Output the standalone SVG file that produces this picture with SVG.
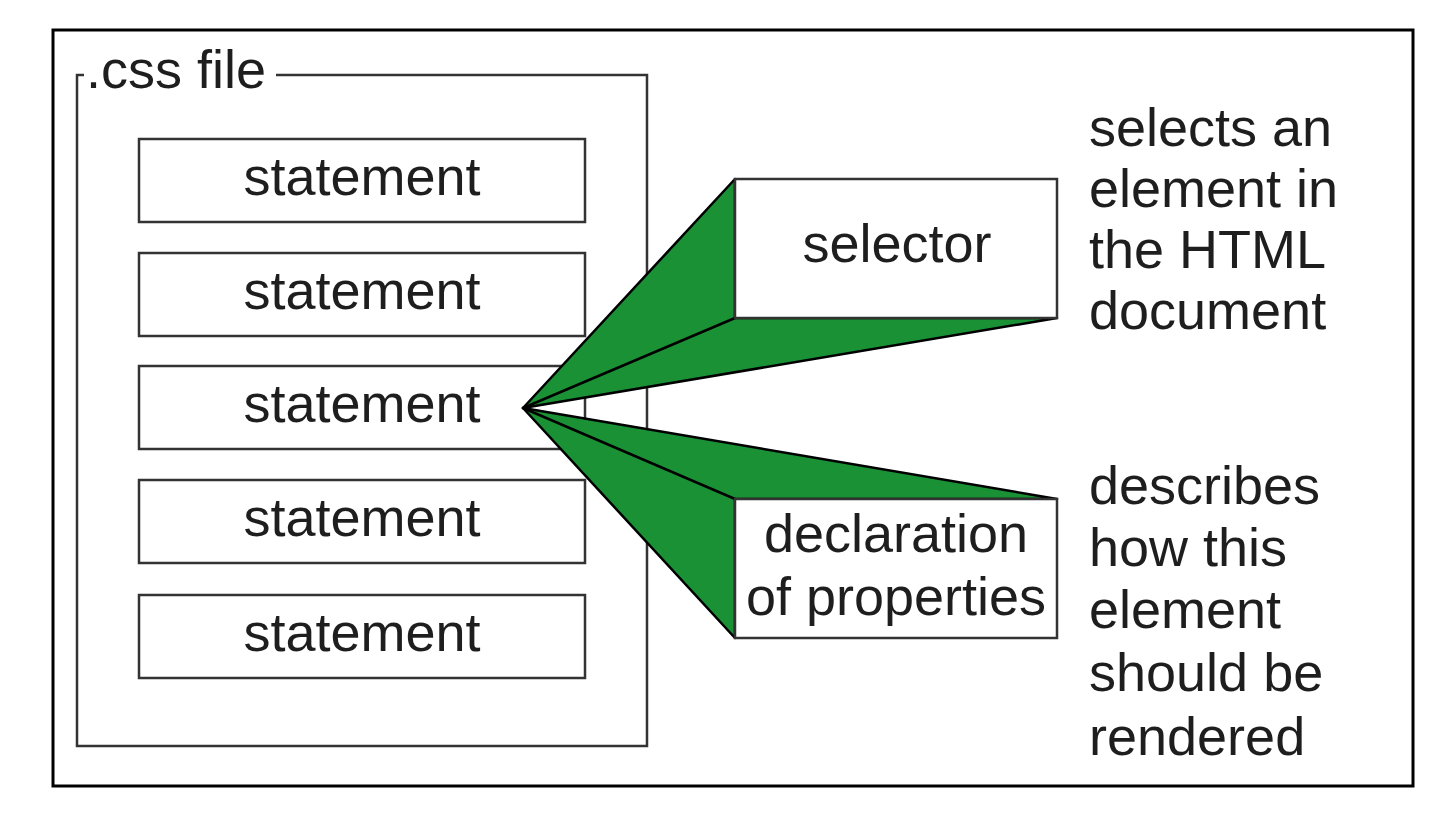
<svg xmlns="http://www.w3.org/2000/svg" width="1444" height="830" viewBox="0 0 1444 830">
  <style>
    .box { fill: #ffffff; stroke: #333333; stroke-width: 2.5; }
    .frame { fill: none; stroke: #000000; stroke-width: 3; }
    .lbl { font-family: "Liberation Sans", Arial, Helvetica, sans-serif; font-size: 54px; fill: #1e1e1e; }
    .mid { text-anchor: middle; }
    .wedge { fill: #1b9136; stroke: #000000; stroke-width: 2.5; stroke-linejoin: round; }
    .edge { fill: none; stroke: #000000; stroke-width: 2.5; stroke-linecap: round; }
  </style>
  <rect x="0" y="0" width="1444" height="830" fill="#ffffff"/>
  <rect id="frame" class="frame" x="53" y="30" width="1360" height="756"/>

  <g id="css-file">
    <path d="M 84 75 H 77 V 746 H 647 V 75 H 276" fill="none" stroke="#333333" stroke-width="2.5"/>
    <text class="lbl" x="86" y="88">.css file</text>
  </g>

  <g id="statement-1">
    <rect class="box" x="139" y="139" width="446" height="83"/>
    <text class="lbl mid" x="362" y="195">statement</text>
  </g>
  <g id="statement-2">
    <rect class="box" x="139" y="253" width="446" height="83"/>
    <text class="lbl mid" x="362" y="309">statement</text>
  </g>
  <g id="statement-3">
    <rect class="box" x="139" y="366" width="446" height="83"/>
    <text class="lbl mid" x="362" y="422">statement</text>
  </g>
  <g id="statement-4">
    <rect class="box" x="139" y="480" width="446" height="83"/>
    <text class="lbl mid" x="362" y="536">statement</text>
  </g>
  <g id="statement-5">
    <rect class="box" x="139" y="595" width="446" height="83"/>
    <text class="lbl mid" x="362" y="651">statement</text>
  </g>

  <g id="connectors">
    <polygon class="wedge" points="523,408 735,179 735,318 1057,318"/>
    <line class="edge" x1="523" y1="408" x2="735" y2="318"/>
    <polygon class="wedge" points="523,408 1057,499 735,499 735,638"/>
    <line class="edge" x1="523" y1="408" x2="735" y2="499"/>
  </g>

  <g id="selector">
    <rect class="box" x="735" y="179" width="322" height="139"/>
    <text class="lbl mid" x="897" y="262">selector</text>
  </g>
  <g id="declaration">
    <rect class="box" x="735" y="499" width="322" height="139"/>
    <text class="lbl mid" x="896" y="552">declaration</text>
    <text class="lbl mid" x="896" y="615">of properties</text>
  </g>

  <g id="selector-note">
    <text class="lbl" x="1089" y="146">selects an</text>
    <text class="lbl" x="1089" y="207">element in</text>
    <text class="lbl" x="1089" y="268">the HTML</text>
    <text class="lbl" x="1089" y="329">document</text>
  </g>
  <g id="declaration-note">
    <text class="lbl" x="1089" y="504">describes</text>
    <text class="lbl" x="1089" y="566">how this</text>
    <text class="lbl" x="1089" y="628">element</text>
    <text class="lbl" x="1089" y="691">should be</text>
    <text class="lbl" x="1089" y="755">rendered</text>
  </g>
</svg>
